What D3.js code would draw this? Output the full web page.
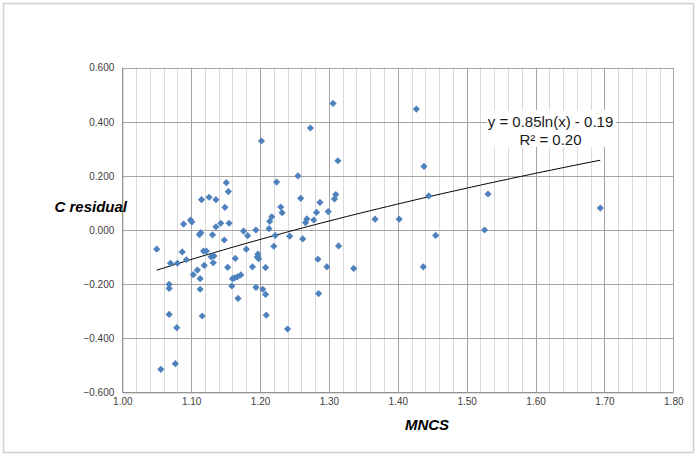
<!DOCTYPE html>
<html>
<head>
<meta charset="utf-8">
<script src="https://cdn.jsdelivr.net/npm/d3@7"></script>
<style>
  html, body { margin: 0; padding: 0; background: #fff; }
  svg { display: block; }
</style>
</head>
<body>
<svg id="chart" width="697" height="457"></svg>
<script>
// ---- data ----
const mncs = [
  1.050, 1.056, 1.068, 1.068, 1.068, 1.070, 1.077, 1.079, 1.080, 1.087,
  1.089, 1.093, 1.099, 1.101, 1.103, 1.109, 1.112, 1.114, 1.113, 1.113,
  1.115, 1.116, 1.118, 1.122, 1.119, 1.126, 1.129, 1.133, 1.132, 1.131,
  1.136, 1.136, 1.143, 1.148, 1.149, 1.151, 1.154, 1.155, 1.153, 1.164,
  1.159, 1.160, 1.163, 1.167, 1.172, 1.168, 1.176, 1.182, 1.180, 1.189,
  1.194, 1.194, 1.197, 1.196, 1.198, 1.202, 1.204, 1.208, 1.208, 1.209,
  1.213, 1.214, 1.217, 1.220, 1.222, 1.224, 1.230, 1.232, 1.240, 1.243,
  1.255, 1.259, 1.262, 1.266, 1.268, 1.273, 1.278, 1.282, 1.284, 1.285,
  1.287, 1.297, 1.299, 1.306, 1.308, 1.310, 1.313, 1.314, 1.336, 1.367,
  1.402, 1.427, 1.437, 1.438, 1.445, 1.455, 1.526, 1.531, 1.694
];
const residual = [
  -0.071, -0.515, -0.201, -0.216, -0.312, -0.123, -0.494, -0.361, -0.123, -0.081,
   0.022, -0.110,  0.037,  0.030, -0.165, -0.148, -0.017, -0.010, -0.180, -0.219,
   0.112, -0.318, -0.078, -0.078, -0.131,  0.121, -0.099, -0.096, -0.121, -0.018,
   0.112,  0.012,  0.025, -0.037,  0.084,  0.175,  0.142,  0.025, -0.138, -0.105,
  -0.207, -0.180, -0.177, -0.173, -0.166, -0.253, -0.004, -0.021, -0.071, -0.136,
   0.000, -0.212, -0.089, -0.100, -0.106,  0.329, -0.219, -0.238, -0.139, -0.315,
   0.005,  0.032,  0.049, -0.060, -0.020,  0.177,  0.085,  0.064, -0.366, -0.023,
   0.200,  0.117, -0.033,  0.027,  0.041,  0.377,  0.037,  0.065, -0.108, -0.235,
   0.102, -0.136,  0.068,  0.468,  0.115,  0.131,  0.256, -0.059, -0.142,  0.040,
   0.040,  0.447, -0.136,  0.235,  0.126, -0.020,  0.000,  0.133,  0.081
];
const xTickValues = [1.00, 1.10, 1.20, 1.30, 1.40, 1.50, 1.60, 1.70, 1.80];
const xMinorValues = d3.range(0, 41).map(i => 1 + i * 0.02);
const yTickValues = [-0.6, -0.4, -0.2, 0.0, 0.2, 0.4, 0.6];
const trendA = 0.85, trendB = -0.19;   // y = 0.85ln(x) - 0.19
const trendLabel = ["y = 0.85ln(x) - 0.19", "R\u00b2 = 0.20"];
const xTitle = "MNCS", yTitle = "C residual";

// ---- layout ----
const W = 697, H = 457;
const plot = { left: 122.3, right: 673.3, top: 67.7, bottom: 392.3 };
const svg = d3.select("#chart");
const FONT = "'Liberation Sans', Arial, sans-serif";

const x = d3.scaleLinear().domain([1.0, 1.8]).range([plot.left, plot.right]);
const y = d3.scaleLinear().domain([-0.6, 0.6]).range([plot.bottom, plot.top]);

// outer chart border
svg.append("rect")
  .attr("x", 3.5).attr("y", 3.5).attr("width", 690).attr("height", 449)
  .attr("fill", "#fff").attr("stroke", "#d0d0d0").attr("stroke-width", 1.5);

// minor vertical gridlines
svg.append("g").selectAll("line").data(xMinorValues).join("line")
  .attr("x1", d => Math.round(x(d)) + 0.5).attr("x2", d => Math.round(x(d)) + 0.5)
  .attr("y1", plot.top).attr("y2", plot.bottom)
  .attr("stroke", "#d9d9d9").attr("stroke-width", 1);

// major vertical gridlines
svg.append("g").selectAll("line").data(xTickValues).join("line")
  .attr("x1", d => Math.round(x(d)) + 0.5).attr("x2", d => Math.round(x(d)) + 0.5)
  .attr("y1", plot.top).attr("y2", plot.bottom)
  .attr("stroke", "#a6a6a6").attr("stroke-width", 1);

// horizontal gridlines
svg.append("g").selectAll("line").data(yTickValues).join("line")
  .attr("x1", plot.left).attr("x2", plot.right)
  .attr("y1", d => Math.round(y(d)) + 0.5).attr("y2", d => Math.round(y(d)) + 0.5)
  .attr("stroke", "#a6a6a6").attr("stroke-width", 1);

// axes (labels only, lines drawn as grid)
const xAxis = d3.axisBottom(x).tickValues(xTickValues).tickFormat(d3.format(".2f")).tickSize(0).tickPadding(6);
const gx = svg.append("g").attr("transform", `translate(0,${plot.bottom})`).call(xAxis);
gx.select(".domain").attr("stroke", "#8c8c8c");
gx.selectAll("text").attr("font-family", FONT).attr("font-size", 10).attr("fill", "#404040");

const yAxis = d3.axisLeft(y).tickValues(yTickValues).tickFormat(d3.format(".3f")).tickSize(0).tickPadding(8);
const gy = svg.append("g").attr("transform", `translate(${plot.left},0)`).call(yAxis);
gy.select(".domain").attr("stroke", "#8c8c8c");
gy.selectAll("text").attr("font-family", FONT).attr("font-size", 10).attr("fill", "#404040");

// trendline
const xs = d3.range(0, 101).map(i => d3.min(mncs) + (d3.max(mncs) - d3.min(mncs)) * i / 100);
svg.append("path")
  .datum(xs)
  .attr("d", d3.line().x(d => x(d)).y(d => y(trendA * Math.log(d) + trendB)))
  .attr("fill", "none").attr("stroke", "#000").attr("stroke-width", 1);

// points (diamonds)
const pts = mncs.map((m, i) => [m, residual[i]]);
const r = 3.6;
svg.append("g").selectAll("path").data(pts).join("path")
  .attr("d", d => {
    const cx = x(d[0]), cy = y(d[1]);
    return `M${cx},${cy - r}L${cx + r},${cy}L${cx},${cy + r}L${cx - r},${cy}Z`;
  })
  .attr("fill", "#4f81bd");

// trendline label with white box
const lblX = 550.5;
svg.append("rect")
  .attr("x", 487).attr("y", 110).attr("width", 129).attr("height", 37)
  .attr("fill", "#fff");
svg.append("g").selectAll("text").data(trendLabel).join("text")
  .attr("x", lblX).attr("y", (d, i) => 127 + i * 17.5)
  .attr("text-anchor", "middle")
  .attr("font-family", FONT).attr("font-size", 15).attr("fill", "#1a1a1a")
  .text(d => d);

// axis titles
svg.append("text")
  .attr("x", 427).attr("y", 430)
  .attr("text-anchor", "middle")
  .attr("font-family", FONT).attr("font-size", 15)
  .attr("font-weight", "bold").attr("font-style", "italic").attr("fill", "#000")
  .text(xTitle);
svg.append("text")
  .attr("x", 54.5).attr("y", 212)
  .attr("text-anchor", "start")
  .attr("font-family", FONT).attr("font-size", 15)
  .attr("font-weight", "bold").attr("font-style", "italic").attr("fill", "#000")
  .text(yTitle);
</script>
</body>
</html>
